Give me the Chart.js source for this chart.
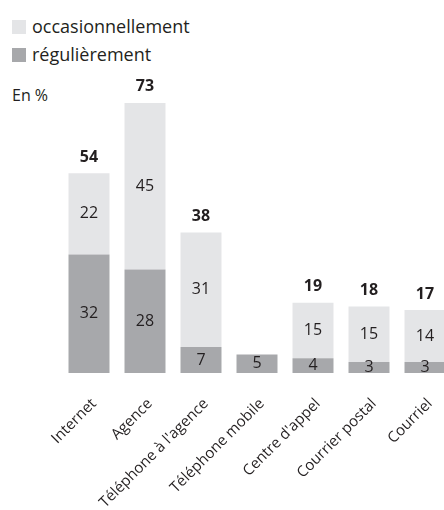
<!DOCTYPE html>
<html>
<head>
<meta charset="utf-8">
<script src="https://cdn.jsdelivr.net/npm/chart.js@4"></script>
<style>
  html, body { margin: 0; padding: 0; background: #fff; overflow: hidden; width: 444px; height: 510px; }
  body { position: relative; font-family: "Open Sans", sans-serif; color: #231f20; }
  #wrap { position: absolute; left: 0; top: 0; width: 453px; height: 510px; }
  .legend { position: absolute; left: 12px; font-size: 18px; line-height: 20px; }
  .legend span { display: inline-block; width: 14px; height: 14px; margin-right: 6px; vertical-align: -1px; }
  #unit { position: absolute; left: 12px; top: 84px; font-size: 16px; }
</style>
</head>
<body>
<div class="legend" style="top:16px"><span style="background:#e4e5e7"></span>occasionnellement</div>
<div class="legend" style="top:44px"><span style="background:#a7a8ab"></span>régulièrement</div>
<div id="unit">En %</div>
<div id="wrap"><canvas id="chart" width="453" height="510"></canvas></div>
<script>
const categories = ["Internet", "Agence", "Téléphone à l'agence", "Téléphone mobile", "Centre d'appel", "Courrier postal", "Courriel"];
const regulierement = [32, 28, 7, 5, 4, 3, 3];
const occasionnellement = [22, 45, 31, 0, 15, 15, 14];
const totals = [54, 73, 38, null, 19, 18, 17];

const textColor = "#231f20";

const valueLabels = {
    id: "valueLabels",
    afterDatasetsDraw(chart) {
        const ctx = chart.ctx;
        ctx.save();
        ctx.fillStyle = textColor;
        ctx.textAlign = "center";
        ctx.textBaseline = "middle";
        ctx.font = "16px 'Open Sans', sans-serif";
        chart.data.datasets.forEach((ds, i) => {
            chart.getDatasetMeta(i).data.forEach((bar, j) => {
                const v = ds.data[j];
                if (!v) return;
                ctx.fillText(v, bar.x, (bar.y + bar.base) / 2);
            });
        });
        ctx.font = "bold 16px 'Open Sans', sans-serif";
        const top = chart.getDatasetMeta(1).data;
        totals.forEach((t, j) => {
            if (t == null) return;
            ctx.fillText(t, top[j].x, top[j].y - 16);
        });
        ctx.restore();
    }
};

const ctx = document.getElementById("chart").getContext("2d");
new Chart(ctx, {
    type: "bar",
    data: {
        labels: categories,
        datasets: [
            { label: "régulièrement", data: regulierement, backgroundColor: "#a7a8ab" },
            { label: "occasionnellement", data: occasionnellement, backgroundColor: "#e4e5e7" }
        ]
    },
    options: {
        responsive: false,
        animation: false,
        layout: { padding: { left: 61, right: 0, top: 77, bottom: 0 } },
        datasets: { bar: { categoryPercentage: 1, barPercentage: 0.732 } },
        plugins: { legend: { display: false }, tooltip: { enabled: false } },
        scales: {
            x: {
                stacked: true,
                grid: { display: false },
                border: { display: false },
                ticks: {
                    color: textColor,
                    font: { family: "'Open Sans', sans-serif", size: 15 },
                    minRotation: 45,
                    maxRotation: 45,
                    autoSkip: false,
                    padding: 14,
                    labelOffset: 5
                },
                afterFit: (s) => { s.height = 137; }
            },
            y: { stacked: true, display: false, min: 0, max: 80 }
        }
    },
    plugins: [valueLabels]
});
</script>
</body>
</html>
